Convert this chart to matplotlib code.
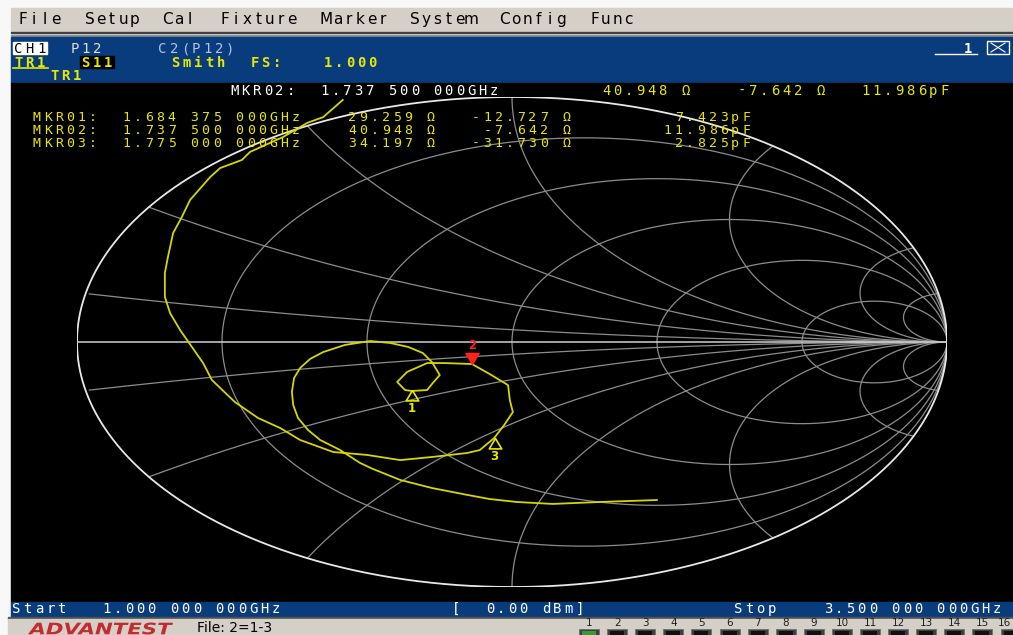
import numpy as np
import matplotlib
matplotlib.use("Agg")
import matplotlib.pyplot as plt
from matplotlib.patches import Rectangle, PathPatch
from matplotlib.textpath import TextPath
from matplotlib.font_manager import FontProperties
from matplotlib.transforms import Affine2D

W, H = 1013, 635
Z0 = 50.0

# sweep / channel settings
start_ghz = 1.0
stop_ghz = 3.5
power_dbm = 0.0
full_scale = 1.000

# marker readouts (MKR01..MKR03), MKR02 is the active one
mkr_freq = [1.684375, 1.7375, 1.775]
mkr_r = [29.259, 40.948, 34.197]
mkr_x = [-12.727, -7.642, -31.730]
mkr_c = [7.423, 11.986, 2.825]
active = 1

# smith grid: constant resistance and reactance circles
r_grid = [0.2, 0.5, 1, 2, 5]
x_grid = [0.1, 0.3, 0.6, 1, 2, 5, 10]

# S11 trace, reflection coefficient in sweep order (1 GHz -> 3.5 GHz)
s11_re = [0.333, 0.267, 0.202, 0.094, 0.011, -0.051, -0.103, -0.184, -0.257,
          -0.320, -0.349, -0.395, -0.441, -0.469, -0.492, -0.503, -0.506,
          -0.501, -0.487, -0.464, -0.434, -0.384, -0.326, -0.280, -0.239,
          -0.205, -0.184, -0.166, -0.182, -0.195, -0.230, -0.246, -0.264,
          -0.241, -0.195, -0.154, -0.092, -0.051, -0.009, -0.005, 0.002,
          -0.018, -0.041, -0.074, -0.103, -0.182, -0.257, -0.333, -0.411,
          -0.487, -0.533, -0.584, -0.637, -0.690, -0.710, -0.747, -0.763,
          -0.786, -0.798, -0.798, -0.791, -0.779, -0.759, -0.740, -0.694,
          -0.671, -0.621, -0.602, -0.526, -0.471, -0.434, -0.389]
s11_im = [-0.645, -0.649, -0.653, -0.661, -0.653, -0.641, -0.624, -0.596, -0.563,
          -0.518, -0.494, -0.441, -0.400, -0.359, -0.310, -0.257, -0.204,
          -0.147, -0.106, -0.069, -0.041, -0.012, 0.004, -0.004, -0.020,
          -0.045, -0.082, -0.135, -0.167, -0.196, -0.200, -0.196, -0.163,
          -0.122, -0.086, -0.086, -0.090, -0.131, -0.176, -0.237, -0.286,
          -0.339, -0.392, -0.441, -0.453, -0.469, -0.482, -0.461, -0.449,
          -0.400, -0.351, -0.310, -0.245, -0.155, -0.086, 0.008, 0.049,
          0.118, 0.184, 0.282, 0.347, 0.445, 0.510, 0.580, 0.673,
          0.710, 0.743, 0.776, 0.837, 0.894, 0.918, 0.988]

menu_items = ["File", "Setup", "Cal", "Fixture", "Marker", "System", "Config", "Func"]
menu_x = [18, 85, 163, 220, 322, 410, 500, 590]
port_keys = list(range(1, 17))

BLUE = "#083c7c"
GRAYBAR = "#d4d0c8"
YEL = "#e8e800"
TRACE = "#d6d600"
GRID = "#8c8c8c"
PITCH = 11.27
FS = 10


def ghz(f):
    s = f"{f:.9f}"
    return f"{s[:5]} {s[5:8]} {s[8:]}GHz"


fig = plt.figure(figsize=(W / 100, H / 100), dpi=100)
fig.patch.set_facecolor("white")

bg = fig.add_axes([0, 0, 1, 1])
bg.set_xlim(0, W)
bg.set_ylim(H, 0)
bg.axis("off")
bg.set_zorder(0)

# screen panels
bg.add_patch(Rectangle((0, 0), W, H, color="#f8f8f8"))
bg.add_patch(Rectangle((11, 8), W - 11, 24, color=GRAYBAR))
bg.add_patch(Rectangle((11, 31.5), W - 11, 1.5, color="#404040"))
bg.add_patch(Rectangle((11, 34.5), W - 11, 1.2, color="#909090"))
bg.add_patch(Rectangle((11, 37), W - 11, 46, color=BLUE))
bg.add_patch(Rectangle((11, 83), W - 11, 519, color="black"))
bg.add_patch(Rectangle((11, 602), W - 11, 15, color=BLUE))
bg.add_patch(Rectangle((8, 617), W - 8, 1.5, color="#505050"))
bg.add_patch(Rectangle((8, 618.5), W - 8, 17, color=GRAYBAR))
bg.add_patch(Rectangle((13, 42), 34, 12, color="white"))
bg.add_patch(Rectangle((80, 55.5), 34, 12, color="black"))
bg.plot([13, 48], [67.5, 67.5], color=YEL, lw=1.2)
bg.plot([935, 977], [54, 54], color="white", lw=1)
bg.add_patch(Rectangle((987, 41), 22, 13, fill=False, ec="white", lw=1))
bg.plot([991, 1005], [43, 52], color="white", lw=0.8)
bg.plot([991, 1005], [52, 43], color="white", lw=0.8)

# port key buttons along the bottom
for i, k in enumerate(port_keys):
    kx = 589 + 28.1 * i
    bg.text(min(kx, 1004), 623, str(k), fontsize=7.5, ha="center", va="center", color="#202020")
    bg.add_patch(Rectangle((kx - 10, 628.5), 20, 7, fc="#404040", ec="#707070", lw=0.6))
    bg.add_patch(Rectangle((kx - 7, 630.5), 14, 5,
                           fc="#30a030" if k == 1 else "#101010", ec="none"))

# maker logo, stretched to the badge width
tp = TextPath((0, 0), "ADVANTEST", size=12,
              prop=FontProperties(family="DejaVu Sans", weight="heavy", style="italic"))
bb = tp.get_extents()
logo_tr = Affine2D().translate(-bb.x0, -bb.y0).scale(145 / bb.width, -12 / bb.height).translate(28, 634.5)
bg.add_patch(PathPatch(logo_tr.transform_path(tp), fc="#c42a2e", ec="none"))
bg.text(197, 627.5, "File: 2=1-3", fontsize=10, ha="left", va="center", color="black")

# smith chart in reflection-coefficient coordinates
sm = fig.add_axes([77 / W, 48 / H, 870 / W, 490 / H])
sm.set_xlim(-1, 1)
sm.set_ylim(-1, 1)
sm.axis("off")
sm.patch.set_visible(False)
sm.set_zorder(1)

t = np.linspace(0, 2 * np.pi, 1441)
for r in r_grid:
    c, rad = r / (1 + r), 1 / (1 + r)
    sm.plot(c + rad * np.cos(t), rad * np.sin(t), color=GRID, lw=0.9)

th = np.linspace(-1.5 * np.pi, 0.5 * np.pi, 6000)
for x in x_grid:
    rad = 1 / x
    gx = 1 + rad * np.cos(th)
    gy = 1 / x + rad * np.sin(th)
    inside = gx ** 2 + gy ** 2 <= 1 + 1e-9
    gx = np.where(inside, gx, np.nan)
    gy = np.where(inside, gy, np.nan)
    sm.plot(gx, gy, color=GRID, lw=0.9)
    sm.plot(gx, -gy, color=GRID, lw=0.9)

sm.plot(np.cos(t), np.sin(t), color="#e8e8e8", lw=1.3)
sm.plot([-1, 1], [0, 0], color="#d0d0d0", lw=1.1)

sm.plot(s11_re, s11_im, color=TRACE, lw=1.3)

# markers placed from their impedance readouts
z = (np.array(mkr_r) + 1j * np.array(mkr_x)) / Z0
gam = (z - 1) / (z + 1)
down_tri = [(0, 0), (-0.6, 1), (0.6, 1), (0, 0)]
up_tri = [(0, 0), (-0.6, -1), (0.6, -1), (0, 0)]
for i, g in enumerate(gam):
    if i == active:
        sm.plot(g.real, g.imag, marker=down_tri, ms=16, mfc="#ff2020", mec="#ff2020", ls="none")
        sm.annotate(str(i + 1), (g.real, g.imag), xytext=(0, 14), textcoords="offset points",
                    color="#ff2020", fontsize=8.5, fontweight="bold", ha="center", va="center")
    else:
        sm.plot(g.real, g.imag, marker=up_tri, ms=15, mfc="none", mec=YEL, mew=1.2, ls="none")
        sm.annotate(str(i + 1), (g.real, g.imag), xytext=(0, -13), textcoords="offset points",
                    color=YEL, fontsize=8.5, fontweight="bold", ha="center", va="center")

# text layer on top
fg = fig.add_axes([0, 0, 1, 1])
fg.set_xlim(0, W)
fg.set_ylim(H, 0)
fg.axis("off")
fg.patch.set_visible(False)
fg.set_zorder(2)


def mono(x0, y, s, color, size=FS, weight="normal", family="DejaVu Sans Mono"):
    base = y + 0.365 * size * 100 / 72
    for i, ch in enumerate(s):
        if ch.strip():
            fg.text(x0 + i * PITCH + 4.5, base, ch, color=color, fontsize=size,
                    fontweight=weight, family=family, ha="center", va="baseline")


for name, mx in zip(menu_items, menu_x):
    mono(mx, 18, name, "black", size=11, family="DejaVu Sans")

mono(14, 48, "CH1", "black")
mono(70, 48, "P12", "#e0e0e0")
mono(158, 48, "C2(P12)", "#b4c4dc")
mono(14, 61.5, "TR1", YEL, weight="bold")
mono(81, 61.5, "S11", YEL, weight="bold")
mono(171, 61.5, "Smith", YEL, weight="bold")
mono(250, 61.5, "FS:", YEL, weight="bold")
mono(323, 61.5, f"{full_scale:.3f}", YEL, weight="bold")
mono(50, 75, "TR1", YEL, weight="bold")
mono(963, 48, "1", "white", weight="bold")

# active marker readout line
a = active
mono(230, 90, f"MKR{a + 1:02d}:  {ghz(mkr_freq[a])}", "white")
mono(230 + 24 * PITCH, 90,
     f"{mkr_r[a]:>15.3f} Ω{mkr_x[a]:10.3f} Ω{mkr_c[a]:9.3f}pF", YEL)

# marker table
for i in range(len(mkr_freq)):
    row = (f"MKR{i + 1:02d}:  {ghz(mkr_freq[i])}{mkr_r[i]:10.3f} Ω"
           f"{mkr_x[i]:10.3f} Ω{mkr_c[i]:14.3f}pF")
    mono(32, 116.5 + 12.6 * i, row, YEL, size=9.5)

mono(12, 607.5, f"Start   {ghz(start_ghz)}", "white")
mono(12 + 39 * PITCH, 607.5, f"[  {power_dbm:.2f} dBm]", "white")
mono(12 + 64 * PITCH, 607.5, f"Stop    {ghz(stop_ghz)}", "white")

fig.savefig("out.png", dpi=100)
